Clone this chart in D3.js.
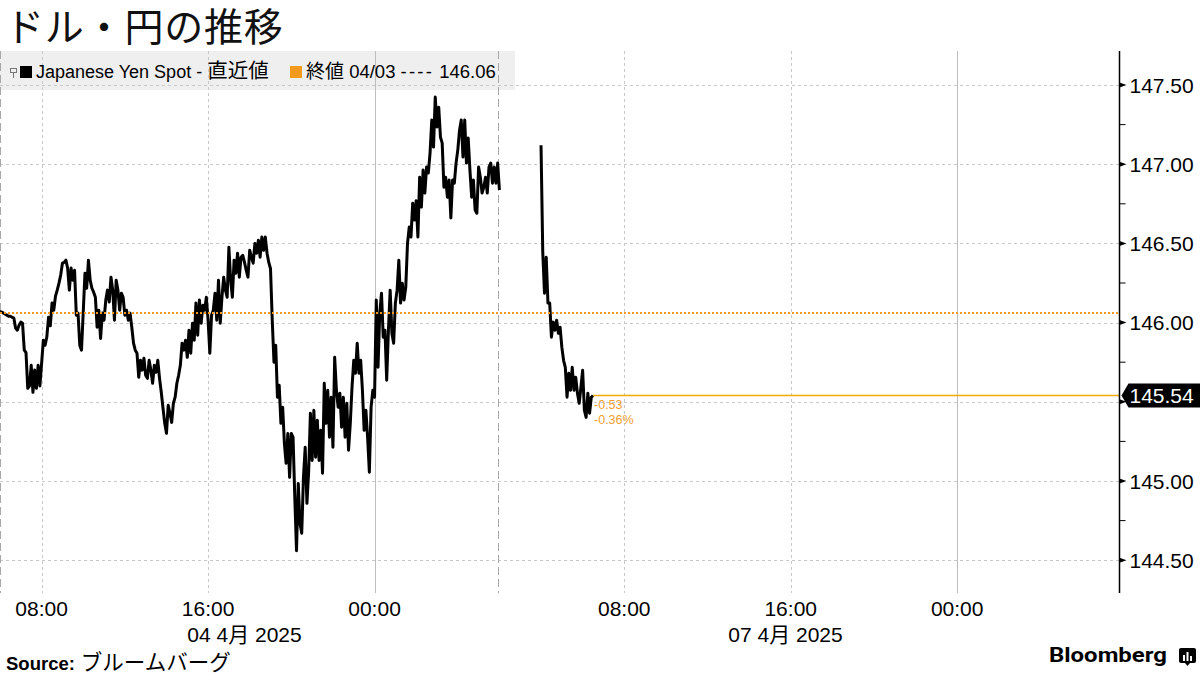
<!DOCTYPE html>
<html><head><meta charset="utf-8">
<script src="https://cdn.jsdelivr.net/npm/d3@7"></script>
<style>
body{margin:0;background:#fff;}
svg{display:block;}
</style></head><body>
<svg id="chart" width="1200" height="675"></svg>
<script>
// ---------- data ----------
const titleText = "ドル・円の推移";
const seriesName = "Japanese Yen Spot - 直近値";
const closeLabel = "終値 04/03 ---- 146.06";
const sourceLabel = "Source:";
const sourceName = "ブルームバーグ";
const prevClose = 146.06;
const lastValue = 145.54;
const changeLabels = ["-0.53", "-0.36%"];
const yTicks = [144.5, 145.0, 145.5, 146.0, 146.5, 147.0, 147.5];
const yMinorTicks = [144.25, 144.75, 145.25, 145.75, 146.25, 146.75, 147.25, 147.75];
const xTickTimes = ["2025-04-04T08:00","2025-04-04T16:00","2025-04-05T00:00","2025-04-07T08:00","2025-04-07T16:00","2025-04-08T00:00"];
const xTickLabels = ["08:00","16:00","00:00","08:00","16:00","00:00"];
const dayLabels = ["04 4月 2025", "07 4月 2025"];
const dayLabelSpans = [["2025-04-04T06:00","2025-04-05T00:00"],["2025-04-07T02:00","2025-04-08T00:00"]];
// visible time segments (weekend collapsed)
const scaleBreaks = ["2025-04-04T06:00","2025-04-05T06:00","2025-04-07T02:00","2025-04-08T07:48"];
const sessionBreaks = ["2025-04-04T06:00","2025-04-05T06:00"];
const stepMinutes = 5;
const session1Start = "2025-04-04T06:00";
const session1Values = [
146.07,146.066,146.06,146.053,146.047,146.04,146.04,146.034,146.028,
145.965,145.952,145.984,146.003,145.996,145.826,145.81,145.585,145.60,145.73,145.56,145.70,145.585,145.73,145.60,
145.743,145.889,145.857,145.91,146.034,145.98,146.123,146.078,146.167,146.205,146.249,146.30,146.375,146.38,146.394,
146.344,146.205,146.344,146.268,146.33,146.047,146.06,145.857,145.826,146.066,146.312,146.217,146.394,146.268,146.217,
146.192,146.16,145.971,146.078,145.90,146.06,146.015,146.142,146.205,146.13,146.287,146.205,146.015,146.268,146.205,
146.078,146.186,146.16,146.047,146.078,146.015,146.06,145.971,145.87,145.826,145.807,145.655,145.762,145.70,145.775,
145.667,145.648,145.762,145.70,145.617,145.73,145.687,145.762,145.648,145.56,145.46,145.364,145.301,145.478,145.428,
145.37,145.491,145.529,145.617,145.667,145.73,145.87,145.826,145.889,145.781,145.952,145.807,145.996,145.889,146.123,
145.92,146.142,145.996,146.11,146.078,146.16,146.015,145.807,146.047,146.078,146.186,146.015,146.268,145.996,146.16,
146.287,146.205,146.16,146.476,146.268,146.16,146.394,146.312,146.438,146.287,146.413,146.425,146.38,146.33,146.287,
146.457,146.413,146.375,146.50,146.438,146.52,146.413,146.54,146.457,146.54,146.438,146.38,146.34,146.015,145.75,
145.857,145.529,145.605,145.364,145.466,145.238,145.112,145.30,145.023,145.30,145.276,144.897,144.56,144.985,144.733,
144.67,145.023,145.213,144.859,145.06,145.428,145.13,145.447,145.15,145.383,145.13,145.32,145.049,145.617,145.364,
145.573,145.276,145.529,145.213,145.781,145.573,145.466,145.554,145.34,145.529,145.276,145.491,145.194,145.364,145.592,
145.762,145.68,145.87,145.68,145.762,145.573,145.32,145.447,145.276,145.055,145.466,145.573,145.529,146.142,145.718,
146.06,146.186,145.908,145.952,145.636,145.952,146.205,145.933,145.87,146.123,146.205,146.394,146.123,146.249,146.142,
146.224,146.50,146.603,146.54,146.754,146.647,146.77,146.54,146.918,146.729,146.963,146.818,146.982,146.944,147.07,
147.279,147.108,147.424,147.235,147.36,147.171,147.133,146.855,146.918,146.792,146.90,146.66,146.90,146.88,147.007,
147.089,147.215,147.279,147.045,147.279,147.007,147.165,146.963,146.792,146.90,146.71,146.69,146.982,146.918,146.818,
146.855,146.918,146.818,146.982,147.007,146.88,146.982,146.88,147.007,146.837
];
const session2Start = "2025-04-07T04:00";
const session2Values = [
147.12,146.445,146.186,146.413,146.123,146.123,145.908,146.003,145.952,146.015,145.933,145.971,145.845,145.762,
145.718,145.529,145.68,145.573,145.718,145.573,145.655,145.554,145.491,145.592,145.699,145.447,145.402,145.554,
145.428,145.529,145.54
];

// ---------- layout ----------
const svg = d3.select("#chart");
const plot = {left: 0, right: 1119.5, top: 51, bottom: 593};
const parse = d3.timeParse("%Y-%m-%dT%H:%M");
const br = scaleBreaks.map(parse);
const hrs = (a, b) => (b - a) / 36e5;
const activeHours = hrs(br[0], br[1]) + hrs(br[2], br[3]);
const pxPerHour = (plot.right - plot.left) / activeHours;
const xBreak = plot.left + hrs(br[0], br[1]) * pxPerHour;
const x = d3.scaleTime().domain(br).range([plot.left, xBreak, xBreak, plot.right]);
const y = d3.scaleLinear().domain([144.5, 147.5]).range([560.2, 85]);

const latin = "'Liberation Sans', 'Noto Sans CJK JP', sans-serif";
const orange = "#f39a1e";

const toSeries = (start, vals) => vals.map((v, i) => ({t: d3.timeMinute.offset(parse(start), i * stepMinutes), v}));
const s1 = toSeries(session1Start, session1Values);
const s2 = toSeries(session2Start, session2Values);

// text with CJK runs slightly larger and dash runs widened
function richText(sel, str, size, cjkSize) {
  str.split(/([\u3000-\u9fff]+|-{2,})/).filter(s => s.length).forEach(part => {
    const t = sel.append("tspan").text(part);
    if (/[\u3000-\u9fff]/.test(part)) t.attr("font-size", cjkSize);
    else if (/^-{2,}$/.test(part)) t.attr("font-size", size).attr("letter-spacing", 2.2);
    else t.attr("font-size", size);
  });
}

// title
svg.append("text").attr("x", 5).attr("y", 41).text(titleText)
  .attr("font-family", latin).attr("font-size", 39).attr("letter-spacing", 0.8).attr("fill", "#111");

// legend band
svg.append("rect").attr("x", 0).attr("y", plot.top).attr("width", 515).attr("height", 39).attr("fill", "#efefef");

// gridlines horizontal
svg.append("g").selectAll("line").data(yTicks).join("line")
  .attr("x1", plot.left).attr("x2", plot.right).attr("y1", d => Math.round(y(d)) + 0.5).attr("y2", d => Math.round(y(d)) + 0.5)
  .attr("stroke", "#c8c8c8").attr("stroke-dasharray", "3,3");

// gridlines vertical
const xt = xTickTimes.map(parse);
svg.append("g").selectAll("line").data(xt).join("line")
  .attr("x1", d => Math.round(x(d)) + 0.5).attr("x2", d => Math.round(x(d)) + 0.5)
  .attr("y1", plot.top).attr("y2", plot.bottom)
  .attr("stroke", d => d.getHours() === 0 ? "#bdbdbd" : "#c8c8c8")
  .attr("stroke-dasharray", d => d.getHours() === 0 ? null : "3,3");

// session breaks
svg.append("g").selectAll("line").data(sessionBreaks.map(parse)).join("line")
  .attr("x1", d => Math.max(0.5, Math.round(x(d)) - 0.5)).attr("x2", d => Math.max(0.5, Math.round(x(d)) - 0.5))
  .attr("y1", plot.top).attr("y2", plot.bottom)
  .attr("stroke", "#a8a8a8").attr("stroke-dasharray", "8,4");

// series line
const line = d3.line().x(d => x(d.t)).y(d => y(d.v));
[s1, s2].forEach(s => {
  svg.append("path").datum(s).attr("d", line).attr("fill", "none")
    .attr("stroke", "#000").attr("stroke-width", 3).attr("stroke-linejoin", "round");
});

// previous close dotted line
svg.append("line").attr("x1", plot.left).attr("x2", plot.right).attr("y1", y(prevClose)).attr("y2", y(prevClose))
  .attr("stroke", orange).attr("stroke-width", 2).attr("stroke-dasharray", "2,2");

// last value line
const lastPt = s2[s2.length - 1];
const yl = Math.round(y(lastValue)) + 0.5;
svg.append("line").attr("x1", x(lastPt.t)).attr("x2", plot.right).attr("y1", yl).attr("y2", yl)
  .attr("stroke", "#f5a800").attr("stroke-width", 1.5);
changeLabels.forEach((t, i) => {
  svg.append("text").attr("x", x(lastPt.t) + 1).attr("y", yl + 13 + i * 15).text(t)
    .attr("font-family", latin).attr("font-size", 12.5).attr("fill", "#f0a030");
});

// right axis
const yAxis = svg.append("g").attr("transform", `translate(${plot.right},0)`);
yAxis.append("line").attr("x1", 0).attr("x2", 0).attr("y1", plot.top).attr("y2", plot.bottom).attr("stroke", "#000").attr("stroke-width", 1.5);
yAxis.selectAll(".minor").data(yMinorTicks.filter(v => y(v) > plot.top && y(v) < plot.bottom)).join("line")
  .attr("x1", 0).attr("x2", 6).attr("y1", d => y(d)).attr("y2", d => y(d)).attr("stroke", "#000");
yAxis.selectAll(".major").data(yTicks).join("path")
  .attr("d", d => `M0,${y(d) - 2.5}L7,${y(d)}L0,${y(d) + 2.5}Z`).attr("fill", "#000");
yAxis.selectAll("text.lbl").data(yTicks.filter(v => Math.abs(y(v) - yl) > 20)).join("text")
  .attr("x", 10).attr("y", d => y(d)).attr("dy", "0.36em").text(d3.format(".2f"))
  .attr("font-family", latin).attr("font-size", 21).attr("fill", "#000");

// last value tag
yAxis.append("path").attr("d", `M2,${yl}L9,${yl - 12}L${1200 - plot.right},${yl - 12}L${1200 - plot.right},${yl + 12}L9,${yl + 12}Z`).attr("fill", "#000");
yAxis.append("text").attr("x", 10).attr("y", yl).attr("dy", "0.36em").text(d3.format(".2f")(lastValue))
  .attr("font-family", latin).attr("font-size", 21).attr("fill", "#fff");

// x labels
svg.append("g").selectAll("text").data(xt).join("text")
  .attr("x", d => x(d)).attr("y", 616).attr("text-anchor", "middle").text((d, i) => xTickLabels[i])
  .attr("font-family", latin).attr("font-size", 21).attr("fill", "#000");
svg.append("g").selectAll("text").data(dayLabels).join("text")
  .attr("x", (d, i) => (x(parse(dayLabelSpans[i][0])) + x(parse(dayLabelSpans[i][1]))) / 2)
  .attr("y", 642).text(d => d)
  .attr("font-family", latin).attr("font-size", 21).attr("fill", "#000");

// legend
const lg = svg.append("g");
lg.append("rect").attr("x", 10.5).attr("y", 68.5).attr("width", 6).attr("height", 4).attr("fill", "none").attr("stroke", "#777");
lg.append("line").attr("x1", 13.5).attr("x2", 13.5).attr("y1", 72.5).attr("y2", 78).attr("stroke", "#777");
lg.append("rect").attr("x", 20).attr("y", 66).attr("width", 12).attr("height", 12).attr("fill", "#000");
richText(lg.append("text").attr("x", 36).attr("y", 78).attr("font-family", latin).attr("fill", "#000"), seriesName, 18, 20.5);
lg.append("rect").attr("x", 290).attr("y", 66).attr("width", 12).attr("height", 12).attr("fill", orange);
richText(lg.append("text").attr("x", 306).attr("y", 78).attr("font-family", latin).attr("fill", "#000"), closeLabel, 18.5, 19);

// footer
const ft = svg.append("text").attr("x", 6).attr("y", 670).attr("fill", "#000").attr("font-family", latin);
ft.append("tspan").text(sourceLabel).attr("font-weight", "bold").attr("font-size", 18.5);
ft.append("tspan").text(" " + sourceName).attr("font-size", 21.5);

svg.append("text").attr("x", 1049).attr("y", 662).text("Bloomberg")
  .attr("font-family", "Roboto, 'Noto Sans', sans-serif").attr("font-weight", "bold").attr("font-size", 21)
  .attr("textLength", 118).attr("lengthAdjust", "spacingAndGlyphs").attr("fill", "#000");
const ic = svg.append("g").attr("transform", "translate(1179,648)");
ic.append("rect").attr("width", 17).attr("height", 15).attr("rx", 2).attr("fill", "#000");
ic.append("path").attr("d", "M6,15L8.5,18L11,15Z").attr("fill", "#000");
[[4,7,2,6],[7.5,4,2,9],[11,8,2,5]].forEach(b => ic.append("rect").attr("x", b[0]).attr("y", b[1]).attr("width", b[2]).attr("height", b[3]).attr("fill", "#fff"));
</script>
</body></html>
